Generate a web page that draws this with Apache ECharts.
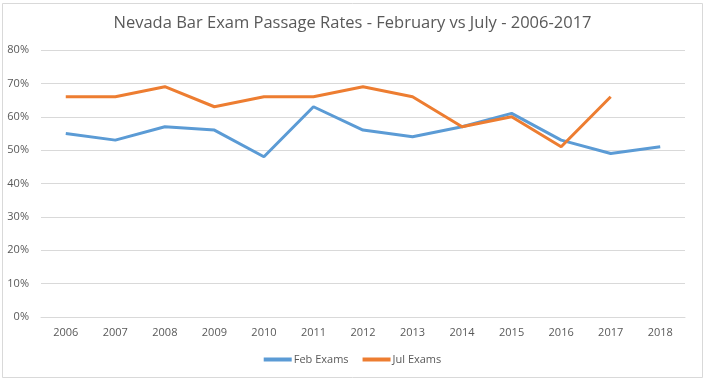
<!DOCTYPE html>
<html>
<head>
<meta charset="utf-8">
<script src="https://cdn.jsdelivr.net/npm/echarts@6/dist/echarts.min.js"></script>
<style>
html,body{margin:0;padding:0;background:#fff;}
#c{width:705px;height:383px;}
</style>
</head>
<body>
<div id="c"></div>
<script>
const years = ['2006','2007','2008','2009','2010','2011','2012','2013','2014','2015','2016','2017','2018'];
const febExams = [55,53,57,56,48,63,56,54,57,61,53,49,51];
const julExams = [66,66,69,63,66,66,69,66,57,60,51,66,null];
const yTicks = [0,10,20,30,40,50,60,70,80];

const chart = echarts.init(document.getElementById('c'));
chart.setOption({
  animation:false,
  backgroundColor:'#fff',
  title:{
    text:'Nevada Bar Exam Passage Rates - February vs July - 2006-2017',
    left:'center', top:10,
    textStyle:{fontFamily:'Open Sans', fontSize:16.5, fontWeight:'normal', color:'#595959'}
  },
  graphic:[{type:'rect', shape:{x:2.5,y:3.5,width:700,height:374}, style:{fill:'none', stroke:'#d9d9d9', lineWidth:1}, silent:true}],
  legend:{
    bottom:13, left:'center', itemWidth:28, itemHeight:4, itemGap:14,
    icon:'rect',
    textStyle:{fontFamily:'Open Sans', fontSize:11, color:'#595959', padding:[0,0,0,-3]},
    data:['Feb Exams','Jul Exams']
  },
  grid:{left:41, right:20, top:50, bottom:66, containLabel:false},
  xAxis:{
    type:'category', data:years, boundaryGap:true,
    axisLine:{lineStyle:{color:'#d9d9d9'}}, axisTick:{show:false},
    axisLabel:{fontFamily:'Open Sans', fontSize:11, color:'#595959', margin:10}
  },
  yAxis:{
    type:'value', min:0, max:80, interval:10,
    axisLine:{show:false}, axisTick:{show:false},
    splitLine:{lineStyle:{color:'#d9d9d9'}},
    axisLabel:{fontFamily:'Open Sans', fontSize:11, color:'#595959', formatter:v=>v+'%', margin:12}
  },
  series:[
    {name:'Feb Exams', type:'line', data:febExams, symbol:'none', lineStyle:{width:3, color:'#5B9BD5'}, itemStyle:{color:'#5B9BD5'}},
    {name:'Jul Exams', type:'line', data:julExams, symbol:'none', lineStyle:{width:3, color:'#ED7D31'}, itemStyle:{color:'#ED7D31'}}
  ]
});
</script>
</body>
</html>
